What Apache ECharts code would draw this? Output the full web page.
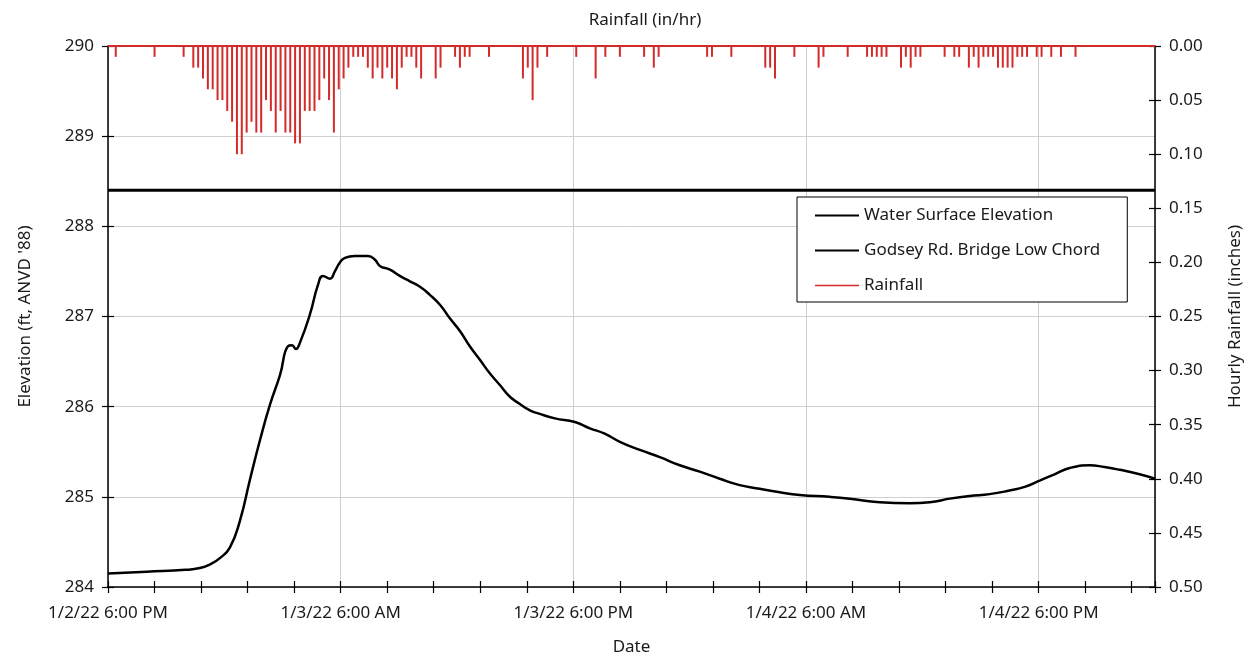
<!DOCTYPE html>
<html><head><meta charset="utf-8">
<script src="https://cdn.jsdelivr.net/npm/echarts@6/dist/echarts.min.js"></script>
<style>html,body{margin:0;padding:0;background:#fff}#c{width:1256px;height:654px}</style>
</head><body><div id="c"></div>
<script>
// ---- data ----
const xTickLabels = ['1/2/22 6:00 PM', '1/3/22 6:00 AM', '1/3/22 6:00 PM', '1/4/22 6:00 AM', '1/4/22 6:00 PM'];

// hours after 1/2/22 6:00 PM
const elevHours = [0, 2, 4, 4.74, 5.26, 5.77, 6.29, 6.81, 7.32, 7.84, 8.35, 8.87,
  9.28, 9.49, 9.69, 9.9, 10.41, 10.83, 11.09, 11.45, 11.7, 11.96,
  12.22, 12.73, 13.41, 13.77, 14.02, 14.54, 15.05, 15.57, 16.09, 16.6, 17.12, 17.63,
  18.15, 18.66, 19.18, 19.69, 20.21, 20.73, 21.24, 21.76, 22.27, 23.05, 24.08, 24.85,
  25.62, 26.4, 27.43, 28.46, 29.49, 30.52, 31.55, 32.58, 33.61, 34.65, 35.68, 37.22,
  38.26, 39.8, 41.35, 42.38, 43.41, 44.44, 45.47, 46.5, 47.28, 48.05, 48.82, 49.6,
  50.63, 51.4, 52.18, 53.21, 54];
const elevValues = [284.15, 284.17, 284.19, 284.21, 284.25, 284.32, 284.44, 284.74, 285.19, 285.63, 286.02, 286.35,
  286.67, 286.68, 286.64, 286.71, 287.02, 287.35, 287.45, 287.42, 287.5, 287.6,
  287.65, 287.67, 287.67, 287.63, 287.56, 287.52, 287.45, 287.39, 287.33, 287.24, 287.13, 286.98,
  286.84, 286.67, 286.52, 286.37, 286.24, 286.11, 286.03, 285.96, 285.92, 285.87, 285.83, 285.76,
  285.70, 285.61, 285.52, 285.44, 285.35, 285.28, 285.20, 285.13, 285.09, 285.05, 285.02, 285.0,
  284.98, 284.94, 284.93, 284.94, 284.98, 285.01, 285.03, 285.07, 285.11, 285.18, 285.25, 285.32,
  285.35, 285.33, 285.30, 285.25, 285.2];

const chordElevation = 288.4;
const chordHours = [0, 54];

// 15-minute rainfall readings (inches), first reading ~9 min after start
const rainStartHour = 0.15;
const rainStepHours = 0.25;
const rainfall = [
  0, .01, 0, 0, 0, 0, 0, 0, 0, .01, 0, 0,
  0, 0, 0, .01, 0, .02, .02, .03, .04, .04, .05, .05,
  .06, .07, .10, .10, .08, .07, .08, .08, .05, .06, .08, .06,
  .08, .08, .09, .09, .06, .06, .06, .05, .03, .05, .08, .04,
  .03, .02, .01, .01, .01, .02, .03, .02, .03, .02, .03, .04,
  .02, .01, .01, .02, .03, 0, 0, .03, .02, 0, 0, .01,
  .02, .01, .01, 0, 0, 0, .01, 0, 0, 0, 0, 0,
  0, .03, .02, .05, .02, 0, .01, 0, 0, 0, 0, 0,
  .01, 0, 0, 0, .03, 0, .01, 0, 0, .01, 0, 0,
  0, 0, .01, 0, .02, .01, 0, 0, 0, 0, 0, 0,
  0, 0, 0, .01, .01, 0, 0, 0, .01, 0, 0, 0,
  0, 0, 0, .02, .02, .03, 0, 0, 0, .01, 0, 0,
  0, 0, .02, .01, 0, 0, 0, 0, .01, 0, 0, 0,
  .01, .01, .01, .01, .01, 0, 0, .02, .01, .02, .01, .01,
  0, 0, 0, 0, .01, 0, .01, .01, 0, .02, .01, .02,
  .01, .01, .01, .02, .02, .02, .02, .01, .01, .01, 0, .01,
  .01, 0, .01, 0, .01, 0, 0, .01, 0, 0, 0, 0,
  0, 0, 0, 0, 0, 0, 0, 0, 0, 0, 0, 0];

// ---- chart ----
const FONT = 'Noto Sans';
const TXT = '#1a1a1a';
const FS = 17;
const RED = '#d42a2a';
const elevData = elevHours.map((h, i) => [h, elevValues[i]]);
const chordData = chordHours.map(h => [h, chordElevation]);
const rainData = rainfall.map((v, i) => [rainStartHour + i * rainStepHours, v]);

const xLabel = v => {
  const k = Math.round(v / 12);
  return (Math.abs(v - 12 * k) < 1e-6 && k < xTickLabels.length) ? xTickLabels[k] : '';
};
const blackLine = { color: '#000', width: 1.5 };
const tickStyle = { color: '#000', width: 1.2 };
const lineIcon = 'path://M0,0L0.01,0L0,0.01Z M44,14L43.99,14L44,13.99Z M0,5.9H44V8.1H0Z';
const thinIcon = 'path://M0,0L0.01,0L0,0.01Z M44,14L43.99,14L44,13.99Z M0,6.3H44V7.7H0Z';
const hidden = { axisLine: { show: false, onZero: false }, axisLabel: { show: false }, splitLine: { show: false } };

const chart = echarts.init(document.getElementById('c'));
chart.setOption({
  animation: false,
  textStyle: { fontFamily: FONT },
  title: {
    text: 'Rainfall (in/hr)', left: 640, top: 7, textAlign: 'center',
    textStyle: { fontSize: FS, fontWeight: 'normal', color: TXT, fontFamily: FONT }
  },
  grid: { left: 108, right: 101, top: 46, bottom: 67, containLabel: false, outerBoundsMode: 'none' },
  legend: {
    orient: 'vertical', left: 797, top: 197,
    padding: [10, 27, 8, 18], itemGap: 18, itemWidth: 44, itemHeight: 14,
    backgroundColor: '#fff', borderColor: '#000', borderWidth: 1,
    textStyle: { fontSize: FS, color: TXT, fontFamily: FONT },
    data: [
      { name: 'Water Surface Elevation', icon: lineIcon },
      { name: 'Godsey Rd. Bridge Low Chord', icon: lineIcon },
      { name: 'Rainfall', icon: thinIcon }
    ]
  },
  xAxis: [
    {
      type: 'value', min: 0, max: 54, interval: 12, position: 'bottom',
      name: 'Date', nameLocation: 'middle', nameGap: 52,
      nameTextStyle: { fontSize: FS, color: TXT },
      axisLine: { onZero: false, lineStyle: blackLine },
      axisTick: { length: 6, lineStyle: tickStyle },
      minorTick: { show: true, splitNumber: 5, length: 6, lineStyle: tickStyle },
      axisLabel: { formatter: xLabel, margin: 18, fontSize: FS, color: TXT },
      splitLine: { show: true, lineStyle: { color: '#d0d0d0', width: 1 } }
    },
    Object.assign({
      // inner half of the crossing ticks on the date axis
      type: 'value', min: 0, max: 54, interval: 12, position: 'bottom',
      axisTick: { show: true, inside: true, length: 6, lineStyle: tickStyle },
      minorTick: { show: true, splitNumber: 5, length: 6, lineStyle: tickStyle }
    }, hidden)
  ],
  yAxis: [
    {
      type: 'value', min: 284, max: 290, interval: 1, position: 'left',
      name: "Elevation (ft, ANVD '88)", nameLocation: 'middle', nameGap: 74, nameRotate: 90,
      nameTextStyle: { fontSize: FS, color: TXT },
      axisLine: { show: true, onZero: false, lineStyle: blackLine },
      axisTick: { show: true, length: 6, lineStyle: tickStyle },
      axisLabel: { margin: 14, fontSize: FS, color: TXT },
      splitLine: { show: true, lineStyle: { color: '#d0d0d0', width: 1 } }
    },
    {
      type: 'value', min: 0, max: 0.5, interval: 0.05, inverse: true, position: 'right',
      name: 'Hourly Rainfall (inches)', nameLocation: 'middle', nameGap: 72, nameRotate: 90,
      nameTextStyle: { fontSize: FS, color: TXT },
      axisLine: { show: true, onZero: false, lineStyle: blackLine },
      axisTick: { show: true, length: 6, lineStyle: tickStyle },
      axisLabel: { margin: 14, fontSize: FS, color: TXT, formatter: v => v.toFixed(2) },
      splitLine: { show: false }
    },
    Object.assign({
      type: 'value', min: 284, max: 290, interval: 1, position: 'left',
      axisTick: { show: true, inside: true, length: 6, lineStyle: tickStyle }
    }, hidden),
    Object.assign({
      type: 'value', min: 0, max: 0.5, interval: 0.05, inverse: true, position: 'right',
      axisTick: { show: true, inside: true, length: 6, lineStyle: tickStyle }
    }, hidden)
  ],
  series: [
    {
      name: 'Rainfall (15-min bars)', type: 'bar', xAxisIndex: 0, yAxisIndex: 1,
      data: rainData, barWidth: 2, itemStyle: { color: RED },
      markLine: {
        silent: true, symbol: 'none', label: { show: false },
        lineStyle: { color: RED, width: 2, type: 'solid' },
        data: [{ yAxis: 0 }]
      }
    },
    {
      // legend entry for the rainfall (drawn as red line key)
      name: 'Rainfall', type: 'line', xAxisIndex: 0, yAxisIndex: 1,
      data: [], symbol: 'none', showSymbol: false,
      lineStyle: { color: RED, width: 1.4 }, itemStyle: { color: RED }
    },
    {
      name: 'Water Surface Elevation', type: 'line', xAxisIndex: 0, yAxisIndex: 0,
      data: elevData, showSymbol: false, symbol: 'none', smooth: 0.5,
      lineStyle: { color: '#000', width: 2.5 }, itemStyle: { color: '#000' }
    },
    {
      name: 'Godsey Rd. Bridge Low Chord', type: 'line', xAxisIndex: 0, yAxisIndex: 0,
      data: chordData, showSymbol: false, symbol: 'none',
      lineStyle: { color: '#000', width: 3 }, itemStyle: { color: '#000' }
    }
  ]
});
</script></body></html>
